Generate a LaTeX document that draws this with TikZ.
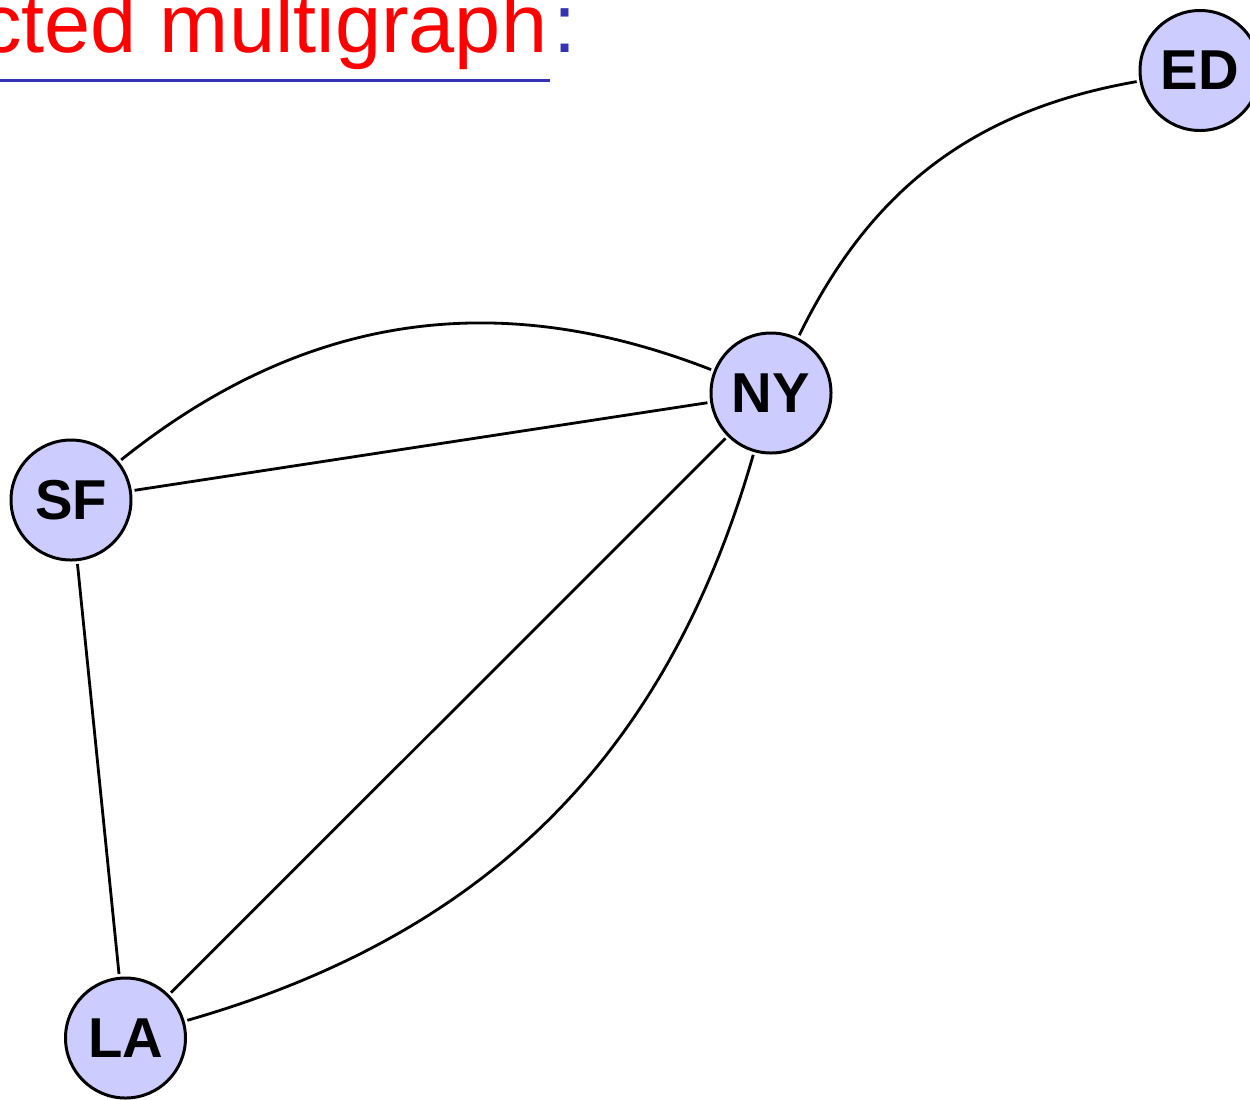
\documentclass[tikz,border=0pt]{standalone}
\usepackage{fontspec}
\setmainfont{Liberation Sans}
\usepackage{tikz}
\usetikzlibrary{shapes,arrows, positioning}
\definecolor{titleblue}{RGB}{51,51,179}
\definecolor{citylilac}{RGB}{204,204,255}
\tikzstyle{cnode} = [circle, fill=citylilac, draw, line width=0.85pt, minimum size=1.2cm, inner sep=0pt, font=\fontsize{16}{19}\selectfont\bfseries]
\tikzstyle{line} = [draw, line width=0.8pt, shorten >=0.8pt, shorten <=0.8pt]

\begin{document}
\begin{tikzpicture}
			\useasboundingbox (0,0) rectangle (12.5,-10.99);
			\node [anchor=base east, inner sep=0pt, text=red, font=\fontsize{23.6}{28}\selectfont] (title) at (5.48,-0.52) {cted multigraph};
			\node [anchor=base west, inner sep=0pt, text=titleblue, font=\fontsize{23.6}{28}\selectfont] (colon) at ([xshift=1.5pt]title.base east) {:};
			\draw [titleblue, line width=0.85pt] (0,-0.805) -- (5.5,-0.805);

			\node [cnode] (ED) at (12.00,-0.705) {ED};
			\node [cnode] (NY) at (7.71,-3.93) {NY};
			\node [cnode] (SF) at (0.71,-5.00) {SF};
			\node [cnode] (LA) at (1.255,-10.38) {LA};

			\path [line] (NY) to[bend left=27] (ED);
			\path [line] (SF) to[bend left=30] (NY);
			\path [line] (SF) -- (NY);
			\path [line] (SF) -- (LA);
			\path [line] (LA) -- (NY);
			\path [line] (LA) to[bend right=29] (NY);
		\end{tikzpicture}
\end{document}
